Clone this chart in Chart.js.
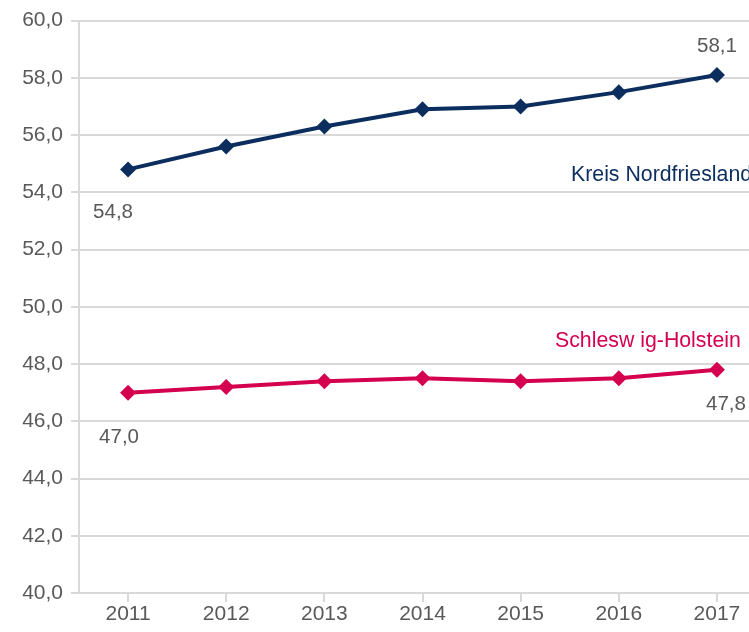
<!DOCTYPE html>
<html>
<head>
<meta charset="utf-8">
<script src="https://cdn.jsdelivr.net/npm/chart.js@4"></script>
<style>
  html, body { margin: 0; padding: 0; background: #fff; overflow: hidden; }
  #clip { width: 749px; height: 632px; overflow: hidden; }
  #wrap { width: 774px; height: 632px; }
</style>
</head>
<body>
<div id="clip"><div id="wrap"><canvas id="myChart"></canvas></div></div>
<script>
const years = ['2011', '2012', '2013', '2014', '2015', '2016', '2017'];
const nordfriesland = [54.8, 55.6, 56.3, 56.9, 57.0, 57.5, 58.1];
const schleswigHolstein = [47.0, 47.2, 47.4, 47.5, 47.4, 47.5, 47.8];
const seriesNames = ['Kreis Nordfriesland', 'Schlesw ig-Holstein'];

const navy = '#0c2e5f';
const crimson = '#d4004f';
const grey = '#595959';
const fontFamily = '"Liberation Sans", Arial, sans-serif';
const fmt = v => v.toFixed(1).replace('.', ',');

// value labels on first/last point + series names
const labelPlugin = {
    id: 'labels',
    afterDatasetsDraw(chart) {
        const ctx = chart.ctx;
        const x = chart.scales.x, y = chart.scales.y;
        ctx.save();
        ctx.font = '20.5px ' + fontFamily;
        ctx.textAlign = 'center';
        ctx.textBaseline = 'middle';
        ctx.fillStyle = grey;
        const last = years.length - 1;
        ctx.fillText(fmt(nordfriesland[0]), x.getPixelForValue(0) - 15, y.getPixelForValue(nordfriesland[0]) + 43);
        ctx.fillText(fmt(nordfriesland[last]), x.getPixelForValue(last), y.getPixelForValue(nordfriesland[last]) - 29);
        ctx.fillText(fmt(schleswigHolstein[0]), x.getPixelForValue(0) - 9, y.getPixelForValue(schleswigHolstein[0]) + 45);
        ctx.fillText(fmt(schleswigHolstein[last]), x.getPixelForValue(last) + 9, y.getPixelForValue(schleswigHolstein[last]) + 35);

        ctx.font = '21.3px ' + fontFamily;
        ctx.textAlign = 'left';
        ctx.fillStyle = navy;
        ctx.fillText(seriesNames[0], 571, y.getPixelForValue(54.6));
        ctx.fillStyle = crimson;
        ctx.fillText(seriesNames[1], 555, y.getPixelForValue(48.8));
        ctx.restore();
    }
};

const canvas = document.getElementById('myChart');
const ctx = canvas.getContext('2d');

const myChart = new Chart(ctx, {
    type: 'line',
    data: {
        labels: years,
        datasets: [
            {
                label: seriesNames[0],
                data: nordfriesland,
                borderColor: navy,
                backgroundColor: navy,
                borderWidth: 4,
                pointStyle: 'rectRot',
                pointRadius: 8,
                pointBorderWidth: 0,
                tension: 0
            },
            {
                label: seriesNames[1],
                data: schleswigHolstein,
                borderColor: crimson,
                backgroundColor: crimson,
                borderWidth: 4,
                pointStyle: 'rectRot',
                pointRadius: 8,
                pointBorderWidth: 0,
                tension: 0
            }
        ]
    },
    options: {
        responsive: true,
        maintainAspectRatio: false,
        animation: false,
        layout: { padding: { top: 12, right: 0, left: 0, bottom: 0 } },
        plugins: {
            legend: { display: false },
            tooltip: { enabled: false }
        },
        scales: {
            x: {
                offset: true,
                afterFit(s) { s.height = 39; },
                grid: {
                    drawOnChartArea: false,
                    drawTicks: true,
                    tickLength: 9,
                    color: '#d9d9d9',
                    lineWidth: 2
                },
                border: { color: '#d9d9d9', width: 2 },
                ticks: {
                    color: grey,
                    font: { family: fontFamily, size: 21 },
                    padding: 0
                }
            },
            y: {
                min: 40,
                max: 60,
                afterFit(s) { s.width = 79; },
                grid: {
                    color: '#d9d9d9',
                    lineWidth: 2,
                    tickLength: 8
                },
                border: { color: '#d9d9d9', width: 2 },
                ticks: {
                    stepSize: 2,
                    color: grey,
                    padding: 8,
                    font: { family: fontFamily, size: 21 },
                    callback: v => fmt(v)
                }
            }
        }
    },
    plugins: [labelPlugin]
});
</script>
</body>
</html>
